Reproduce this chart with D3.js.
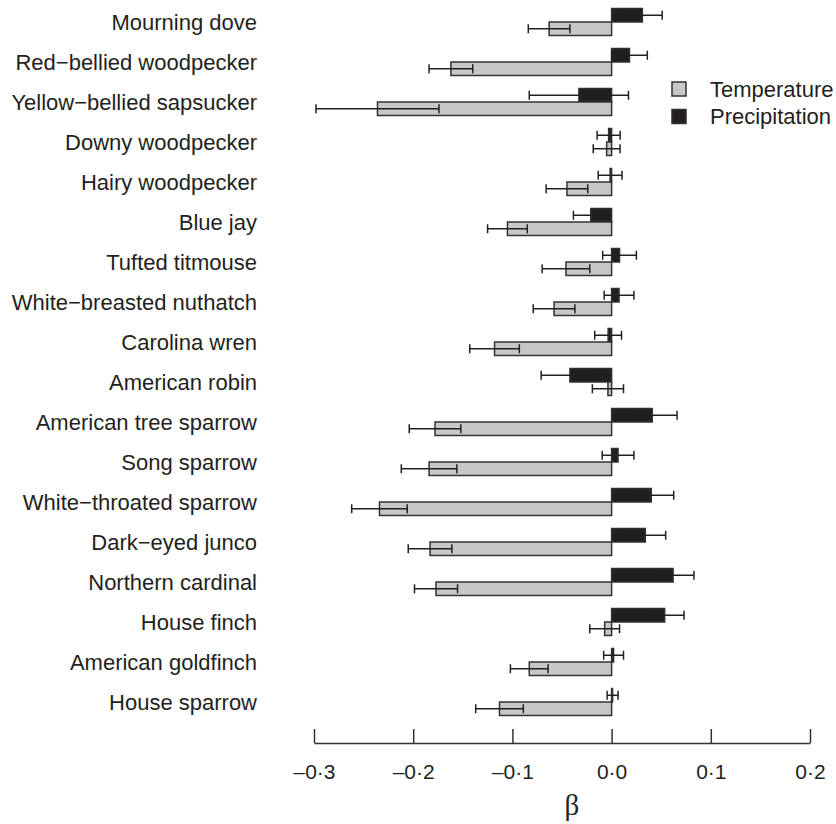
<!DOCTYPE html>
<html>
<head>
<meta charset="utf-8">
<script src="https://cdn.jsdelivr.net/npm/d3@7"></script>
<style>
  body { margin: 0; background: #fff; }
  text { font-family: "Liberation Sans", Arial, sans-serif; fill: #231f20; }
</style>
</head>
<body>
<div id="chart"></div>
<script>
var species = [
  "Mourning dove",
  "Red−bellied woodpecker",
  "Yellow−bellied sapsucker",
  "Downy woodpecker",
  "Hairy woodpecker",
  "Blue jay",
  "Tufted titmouse",
  "White−breasted nuthatch",
  "Carolina wren",
  "American robin",
  "American tree sparrow",
  "Song sparrow",
  "White−throated sparrow",
  "Dark−eyed junco",
  "Northern cardinal",
  "House finch",
  "American goldfinch",
  "House sparrow"
];

var temperature = [-0.063, -0.162, -0.236, -0.005, -0.045, -0.105, -0.046, -0.058, -0.118,
  -0.0037, -0.178, -0.184, -0.234, -0.183, -0.177, -0.007, -0.083, -0.113];
var temperatureSE = [0.021, 0.022, 0.062, 0.0135, 0.021, 0.020, 0.024, 0.021, 0.025,
  0.0157, 0.026, 0.028, 0.028, 0.022, 0.0217, 0.015, 0.019, 0.024];

var precipitation = [0.031, 0.018, -0.033, -0.003, -0.0015, -0.021, 0.008, 0.0075, -0.0035,
  -0.042, 0.041, 0.0065, 0.040, 0.034, 0.062, 0.0535, 0.002, 0.001];
var precipitationSE = [0.020, 0.018, 0.050, 0.0116, 0.012, 0.0175, 0.017, 0.015, 0.0135,
  0.029, 0.025, 0.016, 0.0226, 0.0205, 0.021, 0.0195, 0.010, 0.0055];

var seriesNames = ["Precipitation", "Temperature"];
var legendNames = ["Temperature", "Precipitation"];
var tickValues = [-0.3, -0.2, -0.1, 0, 0.1, 0.2];

var width = 836, height = 824;
var colors = { Temperature: "#c6c7c8", Precipitation: "#231f20" };
var ink = "#231f20";

var rows = species.map(function(name, i) {
  return {
    name: name,
    values: [
      { key: "Precipitation", v: precipitation[i], se: precipitationSE[i] },
      { key: "Temperature", v: temperature[i], se: temperatureSE[i] }
    ]
  };
});

var svg = d3.select("#chart")
  .append("svg")
  .attr("width", width)
  .attr("height", height);

var x = d3.scaleLinear().domain([-0.3, 0.2]).range([314, 810]);
var y = d3.scaleBand().domain(species).range([2, 722]);
var ySub = d3.scaleBand().domain(seriesNames).range([6.5, 33.5]);

var row = svg.selectAll(".row")
  .data(rows)
  .enter()
  .append("g")
  .attr("class", "row")
  .attr("transform", function(d) { return "translate(0," + y(d.name) + ")"; });

row.append("text")
  .attr("x", 257)
  .attr("y", y.bandwidth() / 2)
  .attr("dy", "0.35em")
  .attr("text-anchor", "end")
  .attr("font-size", 22)
  .text(function(d) { return d.name; });

var item = row.selectAll(".item")
  .data(function(d) { return d.values; })
  .enter()
  .append("g")
  .attr("class", "item");

item.append("rect")
  .attr("x", function(d) { return Math.min(x(0), x(d.v)); })
  .attr("y", function(d) { return ySub(d.key); })
  .attr("width", function(d) { return Math.abs(x(d.v) - x(0)); })
  .attr("height", ySub.bandwidth())
  .attr("fill", function(d) { return colors[d.key]; })
  .attr("stroke", "#333132")
  .attr("stroke-width", 1.5);

// error bars, centred on the bar end
item.append("line")
  .attr("x1", function(d) { return x(d.v - d.se); })
  .attr("x2", function(d) { return x(d.v + d.se); })
  .attr("y1", function(d) { return ySub(d.key) + ySub.bandwidth() / 2; })
  .attr("y2", function(d) { return ySub(d.key) + ySub.bandwidth() / 2; })
  .attr("stroke", ink)
  .attr("stroke-width", 1.5);

item.selectAll(".cap")
  .data(function(d) {
    return [d.v - d.se, d.v + d.se].map(function(e) { return { e: e, key: d.key }; });
  })
  .enter()
  .append("line")
  .attr("class", "cap")
  .attr("x1", function(d) { return x(d.e); })
  .attr("x2", function(d) { return x(d.e); })
  .attr("y1", function(d) { return ySub(d.key) + ySub.bandwidth() / 2 - 4.5; })
  .attr("y2", function(d) { return ySub(d.key) + ySub.bandwidth() / 2 + 4.5; })
  .attr("stroke", ink)
  .attr("stroke-width", 1.5);

// x axis, ticks pointing up
var axis = d3.axisBottom(x)
  .tickValues(tickValues)
  .tickSizeInner(-14)
  .tickSizeOuter(0)
  .tickPadding(21)
  .tickFormat(function(d) {
    return d3.format(".1f")(Math.abs(d)).replace(".", "·").replace(/^/, d < 0 ? "–" : "");
  });

var gx = svg.append("g")
  .attr("transform", "translate(0,743)")
  .call(axis);

gx.selectAll("path, line").attr("stroke", "#333132").attr("stroke-width", 1.5);
gx.selectAll("text")
  .attr("font-size", 21)
  .attr("fill", "#231f20")
  .style("font-family", "'Liberation Sans', Arial, sans-serif");

svg.append("text")
  .attr("x", 572)
  .attr("y", 815)
  .attr("text-anchor", "middle")
  .attr("font-size", 29)
  .style("font-family", "'Liberation Serif', 'Times New Roman', serif")
  .text("β");

// legend
var legend = svg.selectAll(".legend")
  .data(legendNames)
  .enter()
  .append("g")
  .attr("class", "legend")
  .attr("transform", function(d, i) { return "translate(672," + (82 + i * 27.5) + ")"; });

legend.append("rect")
  .attr("width", 14)
  .attr("height", 14)
  .attr("fill", function(d) { return colors[d]; })
  .attr("stroke", "#333132")
  .attr("stroke-width", 1.5);

legend.append("text")
  .attr("x", 38)
  .attr("y", 7)
  .attr("dy", "0.35em")
  .attr("font-size", 22)
  .text(function(d) { return d; });
</script>
</body>
</html>
